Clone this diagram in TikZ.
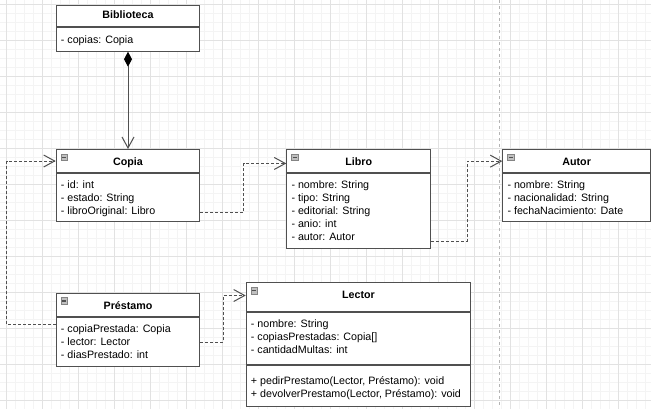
\documentclass[tikz,border=0pt]{standalone}
\usepackage{fontspec}
\setmainfont{Liberation Sans}
\usetikzlibrary{arrows.meta,calc}

\definecolor{umlline}{RGB}{80,80,80}
\definecolor{gridmajor}{RGB}{226,226,226}
\definecolor{gridminor}{RGB}{244,244,244}
\definecolor{icongray}{RGB}{192,192,192}
\definecolor{pagegray}{RGB}{180,180,180}

\tikzset{
  classhead/.style={draw=umlline, line width=1pt, fill=white, anchor=north west, inner sep=0pt,
    text height=11pt, text depth=2pt, font=\bfseries\fontsize{10.7}{13}\selectfont},
  classbody/.style={draw=umlline, line width=1pt, fill=white, anchor=north west, inner sep=0pt},
  attrs/.style={anchor=north west, inner sep=0pt, align=left, font=\fontsize{10.7}{13}\selectfont},
  collapse/.style={draw=umlline!70, fill=icongray, line width=0.6pt, minimum size=6.5pt, inner sep=0pt, anchor=north west,
    path picture={\draw[line width=1.2pt, umlline] ([xshift=1.2pt]path picture bounding box.west) -- ([xshift=-1.2pt]path picture bounding box.east);}},
  dep/.style={draw=umlline, line width=1pt, dash pattern=on 3pt off 2pt, -{Straight Barb[length=11pt,width=12pt]}},
  compo/.style={draw=umlline, line width=1pt, {Diamond[length=15pt,width=8pt,color=black]}-{Straight Barb[length=11pt,width=12pt]}},
  pagebreak/.style={draw=pagegray, line width=0.8pt, dash pattern=on 3pt off 3pt}
}

\begin{document}
\begin{tikzpicture}[x=1pt,y=-1pt]
\useasboundingbox (0,0) rectangle (651,408);
\clip (0,0) rectangle (651,408);
\fill[white] (0,0) rectangle (651,408);
\begin{scope}[shift={(6.3,4.3)}]
\draw[gridminor, line width=0.8pt, step=9pt] (-9,-9) grid (648,405);
\draw[gridmajor, line width=0.8pt, step=36pt] (-36,-36) grid (648,405);
\end{scope}
\draw[pagebreak] (499.7,0) -- (499.7,408);

\node[classhead, minimum width=143.6pt, minimum height=21pt, text depth=5.5pt] (biblio) at (55.7,5) {Biblioteca};
\node[classbody, minimum width=143.6pt, minimum height=23.7pt] (bibliob) at (biblio.south west) {};
\node[attrs] (bibliot) at ([xshift=5pt,yshift=-7.5pt]bibliob.north west) {\strut- copias: Copia};

\node[classhead, minimum width=143.6pt, minimum height=23pt] (copia) at (55.7,149) {Copia};
\node[collapse] (copiai) at ([xshift=4.8pt,yshift=-4.7pt]copia.north west) {};
\node[classbody, minimum width=143.6pt, minimum height=48.3pt] (copiab) at (copia.south west) {};
\node[attrs] (copiat) at ([xshift=5pt,yshift=-6.2pt]copiab.north west) {\strut- id: int\\- estado: String\\- libroOriginal: Libro};

\node[classhead, minimum width=144pt, minimum height=23.3pt] (libro) at (286.3,149) {Libro};
\node[collapse] (libroi) at ([xshift=4.8pt,yshift=-4.7pt]libro.north west) {};
\node[classbody, minimum width=144pt, minimum height=75pt] (librob) at (libro.south west) {};
\node[attrs] (librot) at ([xshift=5pt,yshift=-5.9pt]librob.north west) {\strut- nombre: String\\- tipo: String\\- editorial: String\\- anio: int\\- autor: Autor};

\node[classhead, minimum width=147.7pt, minimum height=23.3pt] (autor) at (502.3,149) {Autor};
\node[collapse] (autori) at ([xshift=4.8pt,yshift=-4.7pt]autor.north west) {};
\node[classbody, minimum width=147.7pt, minimum height=48pt] (autorb) at (autor.south west) {};
\node[attrs] (autort) at ([xshift=5pt,yshift=-5.9pt]autorb.north west) {\strut- nombre: String\\- nacionalidad: String\\- fechaNacimiento: Date};

\node[classhead, minimum width=143.6pt, minimum height=23pt] (prestamo) at (55.7,292.7) {Préstamo};
\node[collapse] (prestamoi) at ([xshift=4.8pt,yshift=-4.7pt]prestamo.north west) {};
\node[classbody, minimum width=143.6pt, minimum height=49pt] (prestamob) at (prestamo.south west) {};
\node[attrs] (prestamot) at ([xshift=5pt,yshift=-6.8pt]prestamob.north west) {\strut- copiaPrestada: Copia\\- lector: Lector\\- diasPrestado: int};

\node[classhead, minimum width=224.6pt, minimum height=29pt, text depth=8pt] (lector) at (245.7,282.3) {Lector};
\node[collapse] (lectori) at ([xshift=4.8pt,yshift=-4.7pt]lector.north west) {};
\node[classbody, minimum width=224.6pt, minimum height=51.7pt] (lectorb) at (lector.south west) {};
\node[attrs] (lectort) at ([xshift=5pt,yshift=-5.6pt]lectorb.north west) {\strut- nombre: String\\- copiasPrestadas: Copia[]\\- cantidadMultas: int};
\node[classbody, minimum width=224.6pt, minimum height=41pt] (lectorm) at (lectorb.south west) {};
\node[attrs] (lectormt) at ([xshift=5pt,yshift=-10.2pt]lectorm.north west) {\strut+ pedirPrestamo(Lector, Préstamo): void\\+ devolverPrestamo(Lector, Préstamo): void};

\draw[compo] (bibliob.south) -- (copia.north);
\draw[dep] ([yshift=-8pt]prestamob.north west) -- ++(-49,0) |- (copia.west);
\draw[dep] ([yshift=9.6pt]copiab.south east) -- ++(43.4,0) |- ([yshift=-2.3pt]libro.west);
\draw[dep] ([yshift=8pt]librob.south east) -- ++(36,0) |- (autor.west);
\draw[dep] ([yshift=24.4pt]prestamob.south east) -- ++(23,0) |- ([yshift=1.8pt]lector.west);
\end{tikzpicture}
\end{document}
